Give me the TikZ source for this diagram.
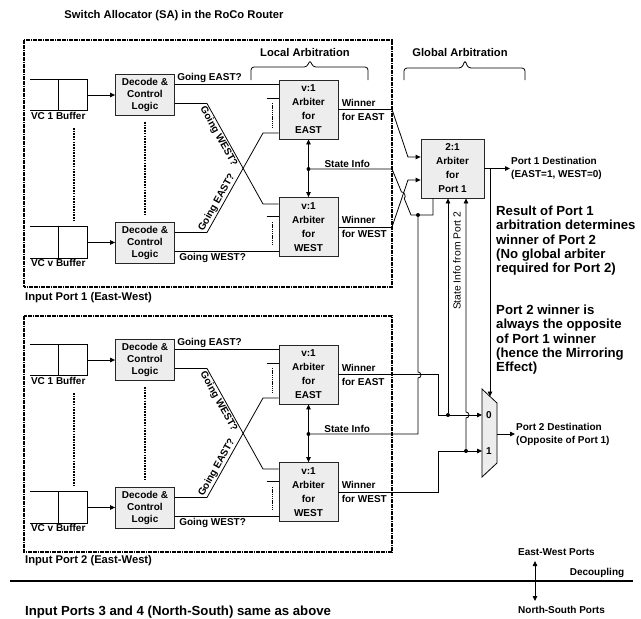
\documentclass[tikz,border=0pt]{standalone}
\usepackage{fontspec}
\setmainfont{Liberation Sans}
\usetikzlibrary{arrows.meta}
\newcommand\lblfont{\fontsize{10}{12}\selectfont\bfseries}
\newcommand\arbfont{\fontsize{10}{14}\selectfont\bfseries}
\newcommand\hdrfont{\fontsize{11.2}{13}\selectfont\bfseries}
\newcommand\notefont{\fontsize{13.2}{14.2}\selectfont\bfseries}
\begin{document}
\begin{tikzpicture}[x=1pt,y=-1pt,
    >={Triangle[length=5pt,width=4.5pt]},
    wire/.style={line width=0.8pt},
    blk/.style={draw=black!85,line width=0.8pt,fill=black!7,align=center,inner sep=0pt},
    dec/.style={blk,minimum width=59pt,minimum height=41pt,font=\lblfont},
    arb/.style={blk,minimum width=59pt,minimum height=59pt,font=\arbfont},
    garb/.style={arb,minimum width=63pt},
    buf/.style={minimum width=57pt,minimum height=31pt,inner sep=0pt},
    lbl/.style={font=\lblfont,inner sep=1pt},
    two/.style={lbl,align=left,font=\arbfont},
    hdr/.style={font=\hdrfont,inner sep=0pt},
    note/.style={font=\notefont,align=left,inner sep=0pt,anchor=north west},
    jdot/.style={circle,fill,inner sep=0pt,minimum size=4pt},
    vdots/.style={line width=2.4pt,dash pattern=on 1.6pt off 1.1pt},
    idots/.style={line width=1.6pt,dash pattern=on 1.3pt off 0.9pt},
    portbox/.style={line width=1.5pt,dash pattern=on 1.8pt off 0.6pt}
]
\useasboundingbox (0,0) rectangle (641,619);

\node[hdr] (title) at (174,16) {Switch Allocator (SA) in the RoCo Router};
\node[hdr] (loc) at (305,52) {Local Arbitration};
\node[hdr] (glb) at (460,52) {Global Arbitration};
\draw[wire,rounded corners=3pt] (251,80) -- (251,67) -- (307,67) -- (310,60) -- (313,67) -- (368,67) -- (368,80);
\draw[wire,rounded corners=3pt] (404,80) -- (404,68) -- (462,68) -- (465,60) -- (468,68) -- (525,68) -- (525,80);

\draw[portbox] (24,40) rectangle (392,287);
\draw[portbox] (24,316) rectangle (392,552);
\node[hdr,anchor=west] at (25,298) {Input Port 1 (East-West)};
\node[hdr,anchor=west] at (25,561) {Input Port 2 (East-West)};

% the two east-west input ports
\foreach \p/\d in {1/0,2/265}{
\begin{scope}[yshift=-\d pt]
    \node[buf] (bufA\p) at (58.5,95) {};
    \node[buf] (bufV\p) at (58.5,242.5) {};
    \node[dec] (decA\p) at (145,95) {Decode \&\\Control\\Logic};
    \node[dec] (decV\p) at (145,242.5) {Decode \&\\Control\\Logic};
    \node[arb] (arbE\p) at (308.5,109.5) {v:1\\Arbiter\\for\\EAST};
    \node[arb] (arbW\p) at (308.5,227) {v:1\\Arbiter\\for\\WEST};
    \node[jdot] (st\p) at (308.5,169) {};
    \node[lbl,anchor=north west] at (bufA\p.south west) {VC 1 Buffer};
    \node[lbl,anchor=north west] at (bufV\p.south west) {VC v Buffer};
    \coordinate (wE\p) at (392,109.5);
    \coordinate (wW\p) at (392,227);

    \foreach \b in {bufA\p,bufV\p}
        \draw[wire] (\b.north west) -- (\b.north east) -- (\b.south east)
            -- (\b.south west) (\b.north) -- (\b.south);
    \draw[vdots] (74,128) -- (74,220);
    \draw[vdots] (145,122) -- (145,214);

    \draw[wire,->] (bufA\p.east) -- (decA\p.west);
    \draw[wire,->] (bufV\p.east) -- (decV\p.west);

    \draw[wire] ([yshift=10.5pt]decA\p.east) -- node[lbl,pos=0,above right,xshift=1pt]{Going EAST?} ([yshift=25pt]arbE\p.west);
    \draw[wire] ([yshift=-8.5pt]decA\p.east) -- (207,103.5) -- node[lbl,sloped,below,pos=0.3]{Going WEST?} (263,204) -- ([yshift=23pt]arbW\p.west);
    \draw[wire] ([yshift=10pt]decV\p.east) -- (207,232.5) -- node[lbl,sloped,above,pos=0.27]{Going EAST?} (263,133) -- ([yshift=-23.5pt]arbE\p.west);
    \draw[wire] ([yshift=-9pt]decV\p.east) -- node[lbl,pos=0,below right,xshift=3pt]{Going WEST?} ([yshift=-24.5pt]arbW\p.west);

    \draw[wire] ([xshift=-12pt,yshift=11.5pt]arbE\p.west) -- ([yshift=11.5pt]arbE\p.west);
    \draw[idots] ([xshift=-6pt,yshift=6.5pt]arbE\p.west) -- ([xshift=-6pt,yshift=-18.5pt]arbE\p.west);
    \draw[wire] ([xshift=-12pt,yshift=11pt]arbW\p.west) -- ([yshift=11pt]arbW\p.west);
    \draw[idots] ([xshift=-6pt,yshift=5pt]arbW\p.west) -- ([xshift=-6pt,yshift=-18pt]arbW\p.west);

    \draw[wire,<->] (arbE\p) -- (arbW\p);
    \draw[wire] (arbE\p.east) -- node[two,pos=0,right,xshift=2pt]{Winner\\for EAST} (wE\p);
    \draw[wire] (arbW\p.east) -- node[two,pos=0,right,xshift=2pt]{Winner\\for WEST} (wW\p);
\end{scope}
}

% global arbitration and mirroring mux
\node[garb] (glob) at (452.5,168.5) {2:1\\Arbiter\\for\\Port 1};
\draw[wire,fill=black!7] (482,389) -- (497,403) -- (497,463) -- (482,477) -- cycle;
\coordinate (mux0) at (482,415);
\coordinate (mux1) at (482,451);
\coordinate (muxo) at (497,434);
\coordinate (muxs) at (490,396.5);
\node[lbl] at (489,415) {0};
\node[lbl] at (489,451) {1};
\node[jdot] (j1) at (418,215) {};
\node[jdot] (j2) at (448,415) {};
\node[jdot] (j3) at (466,451) {};

\draw[wire,->] (wE1) -- (408,157) -- ([yshift=11.5pt]glob.west);
\draw[wire,->] (wW1) -- (408,180) -- ([yshift=-11.5pt]glob.west);
\draw[wire] (st1) -- node[lbl,above,pos=0.45]{State Info} (392,169) -- (401.5,192)
    to[bend left=90] (404.2,198.4) -- (411,215) -- (433,215) -- (glob.south -| 433,0);

\draw[wire] (st2) -- node[lbl,above,pos=0.34]{State Info} (418,434) -- (418,378)
    arc[start angle=-90,end angle=90,radius=3pt] -- (j1);
\draw[wire,->] (wE2) -- (438,374.5) -- (438,415) -- (mux0);
\draw[wire,->] (wW2) -- (438,492) -- (438,451) -- (mux1);
\draw[wire,->] (j2) -- (glob.south -| j2);
\draw[wire,->] (j3) -- (466,418) arc[start angle=-90,end angle=90,radius=3pt] -- (glob.south -| j3);
\node[font=\fontsize{10.3}{12}\selectfont,rotate=90,inner sep=0pt] at (457,261) {State Info from Port 2};

\node[two,anchor=west,font=\fontsize{10}{13}\selectfont\bfseries] (p1dest) at (510,168.5) {Port 1 Destination\\(EAST=1, WEST=0)};
\draw[wire,->] (glob.east) -- (p1dest.west);
\draw[wire,->] (glob.east -| 490,0) -- (muxs);
\node[two,anchor=west,font=\fontsize{10}{13}\selectfont\bfseries] (p2dest) at (515,434) {Port 2 Destination\\(Opposite of Port 1)};
\draw[wire,->] (muxo) -- (p2dest.west);

\node[note] (res) at (496,206) {Result of Port 1\\arbitration determines\\winner of Port 2\\(No global arbiter\\required for Port 2)};
\node[note] (mir) at (496,305) {Port 2 winner is\\always the opposite\\of Port 1 winner\\(hence the Mirroring\\Effect)};

% decoupling of east-west and north-south ports
\draw[line width=1.2pt] (10,581) -- (633,581);
\node[lbl] (dcp) at (597,573) {Decoupling};
\node[lbl,anchor=west] (ewp) at (517,552) {East-West Ports};
\node[lbl,anchor=west] (nsp) at (517,610) {North-South Ports};
\coordinate (ewa) at (535,561);
\coordinate (nsa) at (535,601);
\draw[wire,<->] (ewa) -- (nsa);
\node[note,anchor=west] at (25,612) {Input Ports 3 and 4 (North-South) same as above};
\end{tikzpicture}
\end{document}
